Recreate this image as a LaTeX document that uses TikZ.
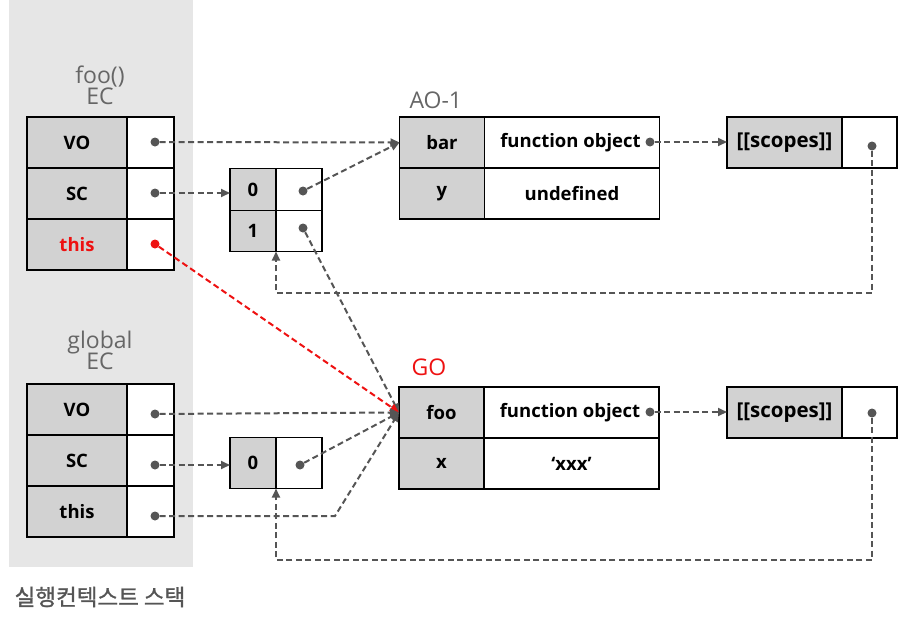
\documentclass[tikz,border=0pt]{standalone}
\usepackage{fontspec}
\setmainfont{Open Sans}
\newfontfamily\krfont[FakeBold=1.2]{Noto Sans CJK KR}
\usetikzlibrary{arrows.meta}
\definecolor{panel}{HTML}{E6E6E6}
\definecolor{keyfill}{HTML}{D2D2D2}
\definecolor{conncol}{HTML}{555555}
\definecolor{lblcol}{HTML}{666666}
\definecolor{redc}{HTML}{EE1111}
\begin{document}
\begin{tikzpicture}[x=1pt,y=-1pt,
  cell/.style={draw=black,line width=1.8pt,inner sep=0pt,outer sep=0pt,minimum height=51pt,
    font=\bfseries\fontsize{18.5}{22}\selectfont},
  keycell/.style={cell,fill=keyfill,minimum width=100pt},
  valcell/.style={cell,fill=white,minimum width=47pt},
  okey/.style={cell,fill=keyfill,minimum width=85pt},
  oval/.style={cell,fill=white,minimum width=175pt},
  skey/.style={cell,fill=keyfill,minimum width=115pt,font=\bfseries\fontsize{20.5}{24}\selectfont},
  sval/.style={cell,fill=white,minimum width=55pt},
  akey/.style={cell,fill=keyfill,minimum width=46pt},
  aval/.style={cell,fill=white,minimum width=46pt},
  dotn/.style={circle,fill=conncol,inner sep=0pt,minimum size=9pt},
  reddot/.style={circle,fill=redc,inner sep=0pt,minimum size=9pt},
  conn/.style={draw=conncol,line width=2pt,dash pattern=on 6pt off 3.5pt,
    -{Triangle[length=9pt,width=8pt]}},
  redconn/.style={conn,draw=redc},
  heading/.style={text=lblcol,font=\fontsize{23}{27}\selectfont,align=center},
  redhead/.style={text=redc,font=\fontsize{23}{27}\selectfont}
]
\useasboundingbox (0,0) rectangle (900,621);
\fill[panel] (9,0) rectangle (193,567);

% foo() EC
\node[heading] (fooh) at (100,85) {foo()\\[-6pt]EC};
\node[keycell] (fVOk) at (77,142.5) {VO};
\node[valcell] (fVOv) at (150.5,142.5) {};
\node[keycell] (fSCk) at (77,193.5) {SC};
\node[valcell] (fSCv) at (150.5,193.5) {};
\node[keycell,text=redc] (fThk) at (77,244.5) {this};
\node[valcell] (fThv) at (150.5,244.5) {};
\node[dotn] (fVOd) at (155,142) {};
\node[dotn] (fSCd) at (155,193) {};
\node[reddot] (fThd) at (155,244) {};

% foo scope chain array
\node[akey,minimum height=42pt] (fa0k) at (253,189.5) {0};
\node[aval,minimum height=42pt] (fa0v) at (299,189.5) {};
\node[akey,minimum height=41pt] (fa1k) at (253,231) {1};
\node[aval,minimum height=41pt] (fa1v) at (299,231) {};
\node[dotn] (fa0d) at (303,191) {};
\node[dotn] (fa1d) at (303,228) {};

% AO-1
\node[heading,anchor=west] (aoh) at (406,100) {AO-1};
\node[okey] (aoBark) at (442,142.5) {bar};
\node[oval] (aoBarv) at (572,142.5) {};
\node[cell,draw=none] (aoBart) at (570.5,142.5) {function object};
\node[okey] (aoYk) at (442,193.5) {y};
\node[oval] (aoYv) at (572,193.5) {undefined};
\node[dotn] (aoFd) at (650,142) {};
\node[skey] (sc1k) at (784.5,142.5) {[[scopes]]};
\node[sval] (sc1v) at (869.5,142.5) {};
\node[dotn] (sc1d) at (872,146) {};

% global EC
\node[heading] (glh) at (100,350) {global\\[-6pt]EC};
\node[keycell] (gVOk) at (77,409.5) {VO};
\node[valcell] (gVOv) at (150.5,409.5) {};
\node[keycell] (gSCk) at (77,460.5) {SC};
\node[valcell] (gSCv) at (150.5,460.5) {};
\node[keycell] (gThk) at (77,511.5) {this};
\node[valcell] (gThv) at (150.5,511.5) {};
\node[dotn] (gVOd) at (155,414) {};
\node[dotn] (gSCd) at (155,465) {};
\node[dotn] (gThd) at (155,516) {};

% global scope chain array
\node[akey] (ga0k) at (253,463) {0};
\node[aval] (ga0v) at (299,463) {};
\node[dotn] (ga0d) at (300,465) {};

% GO
\node[redhead,anchor=west] (goh) at (408,367) {GO};
\node[okey] (goFook) at (441.5,412.5) {foo};
\node[oval] (goFoov) at (571.5,412.5) {};
\node[cell,draw=none] (goFoot) at (570,412.5) {function object};
\node[okey] (goXk) at (441.5,463.5) {x};
\node[oval] (goXv) at (571.5,463.5) {‘xxx’};
\node[dotn] (goFd) at (650,412) {};
\node[skey] (sc2k) at (784.5,412.5) {[[scopes]]};
\node[sval] (sc2v) at (869.5,412.5) {};
\node[dotn] (sc2d) at (872,413) {};

\coordinate (thbend) at (335,516);

% connectors (foo EC)
\draw[conn] (fVOd) -- (aoBark.west);
\draw[conn] (fSCd) -- (fSCd -| fa0k.west);
\draw[conn] (fa0d) -- (aoBark.west);
\draw[conn] (aoFd) -- (sc1k.west |- aoFd);
\draw[conn] (sc1d) -- ++(0,147) -| (fa1k.south east);
\draw[conn] (fa1d) -- (goFook.west);
\draw[redconn] (fThd) -- (goFook.west);

% connectors (global EC)
\draw[conn] (gVOd) -- (goFook.west);
\draw[conn] (gSCd) -- (gSCd -| ga0k.west);
\draw[conn] (ga0d) -- (goFook.west);
\draw[conn] (gThd) -- (thbend) -- (goFook.west);
\draw[conn] (goFd) -- (sc2k.west |- goFd);
\draw[conn] (sc2d) -- ++(0,147) -| (ga0k.south east);

\node[text=conncol,font=\krfont\fontsize{22.5}{26}\selectfont] (stack) at (100,597) {실행컨텍스트 스택};
\end{tikzpicture}
\end{document}
